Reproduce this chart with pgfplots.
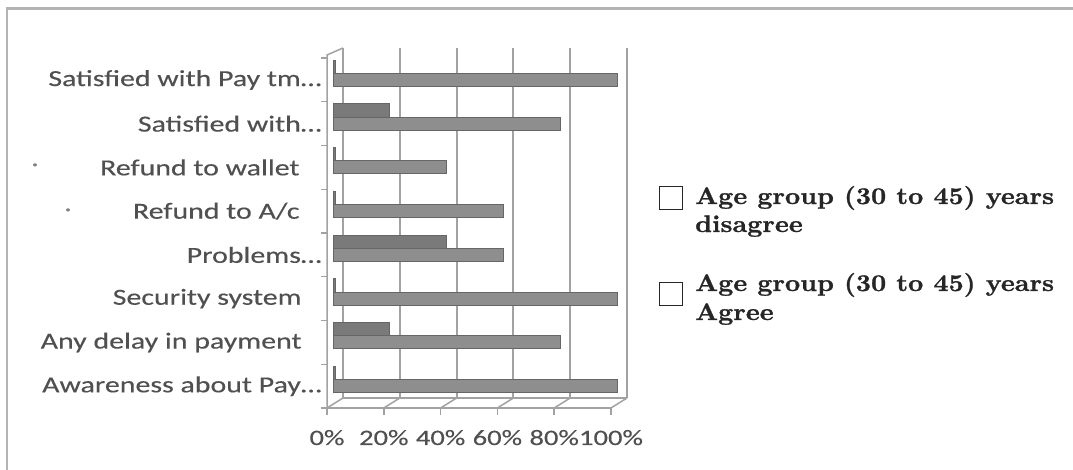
\documentclass[border=0pt]{standalone}
\usepackage{fontspec}
\usepackage{pgfplots}
\pgfplotsset{compat=1.18}
\newfontfamily\lab[FakeStretch=1.3,FakeBold=0.3]{Carlito}
\newfontfamily\legfont[FakeStretch=1.1,FakeBold=1]{lmroman10-bold.otf}
\definecolor{agreefill}{HTML}{8E8E8E}
\definecolor{disfill}{HTML}{7A7A7A}
\definecolor{baredge}{HTML}{666666}
\definecolor{gridc}{HTML}{A2A2A2}
\definecolor{framec}{HTML}{B4B4B4}
\definecolor{labc}{HTML}{505050}

\begin{document}
\begin{tikzpicture}[x=1pt,y=1pt]
\useasboundingbox (0,0) rectangle (1073,470);
% outer frame (top and left only)
\draw[framec, line width=2.5pt] (7,0) -- (7,461.5) -- (1073,461.5);

\begin{axis}[
  at={(333pt,65pt)}, anchor=south west,
  scale only axis, width=284pt, height=350pt,
  xbar, bar width=0.3,
  xmin=0, xmax=100, ymin=-0.43, ymax=7.57,
  xtick={0,20,40,60,80,100},
  xticklabels={0\%,20\%,40\%,60\%,80\%,100\%},
  ytick={0,1,2,3,4,5,6,7},
  yticklabels={Awareness about Pay…,Any delay in payment\hspace{20pt}\mbox{},Security system\hspace{20pt}\mbox{},Problems…,Refund to A/c\hspace{22pt}\mbox{},Refund to wallet\hspace{22pt}\mbox{},Satisfied with…,Satisfied with Pay tm…},
  axis line style={draw=none}, tick style={draw=none},
  xticklabel style={font=\lab\fontsize{22}{24}\selectfont, text=labc, anchor=base, xshift=-6pt, yshift=-40pt},
  yticklabel style={font=\lab\fontsize{23}{25}\selectfont, text=labc, anchor=east, inner sep=0pt, xshift=-7pt},
  clip=false,
]
% back wall gridlines, floor ticks
\pgfplotsinvokeforeach{0,20,40,60,80,100}{
  \draw[gridc, line width=2pt] ([xshift=10pt,yshift=7pt]axis cs:#1,-0.43) -- ([xshift=10pt,yshift=7pt]axis cs:#1,7.57);
  \draw[gridc, line width=1.5pt] ([xshift=-6pt,yshift=-3pt]axis cs:#1,-0.43) -- ([xshift=10pt,yshift=7pt]axis cs:#1,-0.43);
  \draw[gridc, line width=1.5pt] ([xshift=-6pt,yshift=-3pt]axis cs:#1,-0.43) -- ([xshift=-6pt,yshift=-10pt]axis cs:#1,-0.43);
}
% floor and left walls
\draw[gridc, line width=1.5pt] ([xshift=-6pt,yshift=-3pt]axis cs:0,-0.43) -- ([xshift=-6pt,yshift=-3pt]axis cs:100,-0.43);
\draw[gridc, line width=1.5pt] ([xshift=10pt,yshift=7pt]axis cs:0,-0.43) -- ([xshift=10pt,yshift=7pt]axis cs:100,-0.43);
\draw[gridc, line width=1.5pt] ([xshift=-6pt,yshift=-3pt]axis cs:0,-0.43) -- ([xshift=-6pt]axis cs:0,7.57) -- ([xshift=10pt,yshift=7pt]axis cs:0,7.57);
\pgfplotsinvokeforeach{-0.5,0.5,1.5,2.5,3.5,4.5,5.5,6.5,7.5}{
  \draw[gridc, line width=1.2pt] ([xshift=-6pt]axis cs:0,#1) -- ([xshift=-12pt]axis cs:0,#1);
}

% Age group (30 to 45) years Agree
\addplot[xbar, bar shift=0, fill=agreefill, draw=baredge, line width=1pt]
  coordinates {(100,0) (80,1) (100,2) (60,3) (60,4) (40,5) (80,6) (100,7)};
% Age group (30 to 45) years disagree
\addplot[xbar, bar shift=0.3, fill=disfill, draw=baredge, line width=1pt]
  coordinates {(1,0) (20,1) (1,2) (40,3) (1,4) (1,5) (20,6) (1,7)};
\end{axis}

% stray dots left of the labels
\node[text=gray, font=\lab\fontsize{20}{22}\selectfont] at (35,303) {·};
\node[text=gray, font=\lab\fontsize{20}{22}\selectfont] at (68,258) {·};

% legend
\draw[black!85, line width=1.8pt] (659.5,260.5) rectangle (682.5,283.5);
\draw[black!85, line width=1.8pt] (659.5,164.5) rectangle (682.5,187.5);
\begin{scope}[every node/.style={anchor=base west, inner sep=0pt, font=\legfont\fontsize{24}{27}\selectfont, text=black!85}]
\node at (695,266) {Age group (30 to 45) years};
\node at (695,238) {disagree};
\node at (695,179) {Age group (30 to 45) years};
\node at (695,150) {Agree};
\end{scope}
\end{tikzpicture}
\end{document}
